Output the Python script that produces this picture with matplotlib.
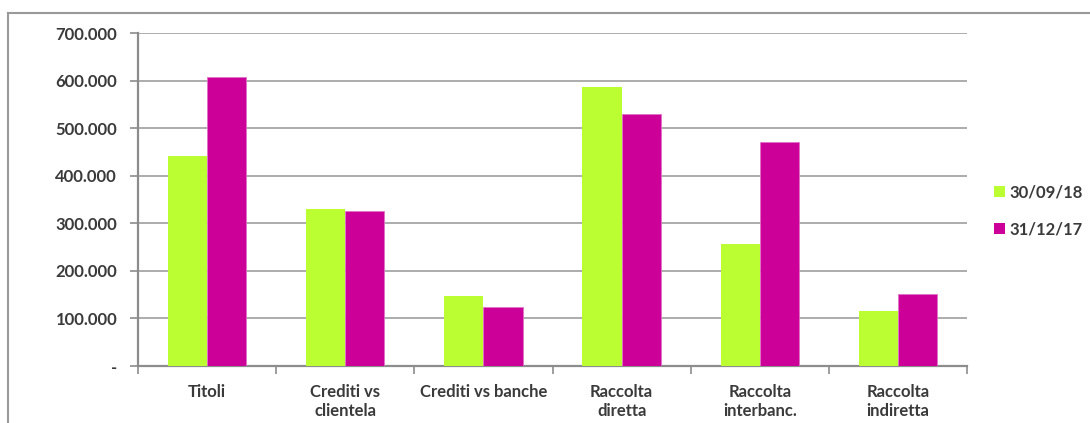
import numpy as np
import matplotlib
matplotlib.use("Agg")
import matplotlib.pyplot as plt
from matplotlib.patches import Patch
from matplotlib.lines import Line2D
from matplotlib.ticker import FuncFormatter, FixedLocator

plt.rcParams["font.family"] = ["Lato", "DejaVu Sans"]

# Aggregati patrimoniali a confronto
categorie = ["Titoli", "Crediti vs\nclientela", "Crediti vs banche",
             "Raccolta\ndiretta", "Raccolta\ninterbanc.", "Raccolta\nindiretta"]
serie_labels = ["30/09/18", "31/12/17"]
valori_set18 = [441000, 331000, 148000, 586000, 256000, 115000]
valori_dic17 = [607000, 325000, 124000, 529000, 470000, 151000]
y_ticks = [0, 100000, 200000, 300000, 400000, 500000, 600000, 700000]

verde = "#BBFF33"
magenta = "#CC0099"
testo = "#3A3A3A"
grigio = "#8C8C8C"
fs = 12

fig = plt.figure(figsize=(10.90, 4.23), dpi=100)
ax = fig.add_axes([138 / 1090, 1 - 366 / 423, (967 - 138) / 1090, (366 - 33) / 423])

x = np.arange(len(categorie))
w = 0.283
ax.bar(x - w / 2, valori_set18, w, color=verde, edgecolor="none", zorder=3)
ax.bar(x + w / 2, valori_dic17, w, color=magenta, edgecolor="#E070C8",
       linewidth=0.6, zorder=3)

ax.set_xlim(-0.5, len(categorie) - 0.5)
ax.set_ylim(0, 700000)

# asse y: formato italiano, zero come trattino
def fmt(v, pos):
    if v == 0:
        return "-"
    return f"{v:,.0f}".replace(",", ".")

ax.yaxis.set_major_locator(FixedLocator(y_ticks))
ax.yaxis.set_major_formatter(FuncFormatter(fmt))
ax.grid(axis="y", color="#A6A6A6", linewidth=1.3, zorder=0)
ax.set_axisbelow(True)

# tacche sui confini tra categorie, etichette al centro
ax.set_xticks(np.arange(-0.5, len(categorie)), labels=[""] * (len(categorie) + 1))
ax.set_xticks(x, labels=categorie, minor=True)
ax.tick_params(axis="x", which="minor", length=0, pad=13)
ax.tick_params(axis="x", which="major", length=6, color=grigio, width=1.2)
ax.tick_params(axis="y", length=6, color=grigio, width=1.2, pad=9)

for lab in ax.get_xticklabels(minor=True):
    lab.set_fontsize(fs)
    lab.set_fontweight("bold")
    lab.set_color(testo)
    lab.set_linespacing(1.2)
    lab.set_verticalalignment("top")
for lab in ax.get_yticklabels():
    lab.set_fontsize(fs)
    lab.set_fontweight("bold")
    lab.set_color(testo)

for s in ["top", "right"]:
    ax.spines[s].set_visible(False)
for s in ["left", "bottom"]:
    ax.spines[s].set_color(grigio)
    ax.spines[s].set_linewidth(1.6)

handles = [Patch(facecolor=verde), Patch(facecolor=magenta)]
leg = fig.legend(handles, serie_labels, loc="center left",
                 bbox_to_anchor=(994 / 1090, 1 - 211 / 423), frameon=False,
                 borderpad=0, borderaxespad=0,
                 handlelength=0.65, handleheight=0.65, handletextpad=0.3,
                 labelspacing=1.25, prop={"size": fs, "weight": "bold"})
for t in leg.get_texts():
    t.set_color(testo)

# cornice esterna del grafico
fig.add_artist(Line2D([8 / 1090, 1], [1 - 13 / 423, 1 - 13 / 423],
                      transform=fig.transFigure, color="#999999", lw=1.5))
fig.add_artist(Line2D([8 / 1090, 8 / 1090], [0, 1 - 13 / 423],
                      transform=fig.transFigure, color="#999999", lw=1.5))

fig.savefig("out.png", dpi=100)
